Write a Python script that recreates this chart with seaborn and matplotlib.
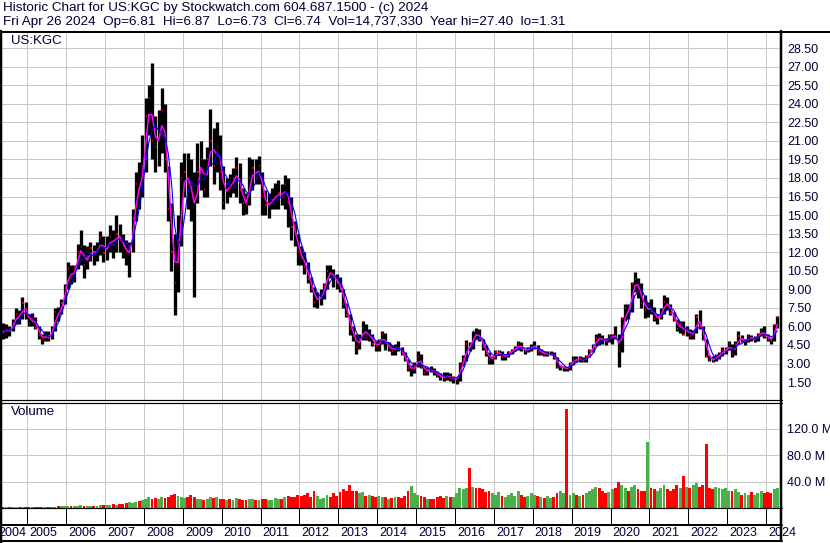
import numpy as np
import pandas as pd
import matplotlib
matplotlib.use("Agg")
import matplotlib.pyplot as plt
import seaborn as sns
from matplotlib.lines import Line2D

# ---------------- data (monthly, May 2004 .. Apr 2024) ----------------
MONTHS = pd.period_range("2004-05", "2024-04", freq="M")

CLOSE = [
    5.5, 5.7, 5.6, 6.3, 7.0, 6.6, 7.9, 7.0,                                   # 2004
    6.2, 6.6, 5.9, 5.3, 5.0, 5.2, 5.1, 5.7, 7.2, 7.0, 7.9, 9.2,               # 2005
    10.6, 9.9, 10.8, 12.0, 12.4, 11.0, 11.6, 12.3, 12.0, 12.2, 13.2, 11.9,    # 2006
    12.3, 13.2, 12.6, 13.5, 13.0, 12.5, 12.0, 12.4, 14.8, 17.5, 17.0, 19.0,   # 2007
    23.0, 24.5, 21.0, 20.5, 21.5, 23.5, 19.5, 15.5, 12.0, 9.5, 13.0, 18.0,    # 2008
    18.5, 17.5, 17.0, 16.5, 18.5, 19.5, 17.0, 19.5, 21.0, 19.0, 20.5, 18.5,   # 2009
    16.0, 17.5, 17.2, 18.0, 18.8, 17.0, 16.0, 15.8, 18.0, 18.8, 18.0, 19.0,   # 2010
    16.5, 15.8, 15.8, 16.2, 16.5, 16.8, 16.5, 17.5, 16.0, 14.0, 13.5, 12.0,   # 2011
    11.5, 10.8, 9.8, 9.0, 8.0, 8.2, 8.4, 9.3, 10.5, 10.3, 10.0, 9.5,          # 2012
    9.0, 7.8, 6.9, 5.8, 5.2, 4.3, 5.0, 5.9, 5.1, 5.3, 4.6, 4.4,               # 2013
    4.8, 5.4, 4.2, 4.4, 4.0, 4.3, 4.2, 3.8, 3.3, 2.6, 2.6, 2.8,               # 2014
    3.5, 2.7, 2.2, 2.5, 2.4, 2.3, 2.0, 1.9, 1.8, 2.0, 1.8, 1.8,               # 2015
    1.8, 2.9, 3.4, 4.6, 4.3, 5.6, 5.3, 5.0, 4.3, 3.8, 3.3, 3.5,               # 2016
    3.9, 3.9, 3.5, 3.6, 3.9, 4.1, 4.2, 4.6, 4.2, 4.0, 4.2, 4.3,               # 2017
    4.4, 3.9, 3.9, 3.7, 3.8, 3.8, 3.5, 2.7, 2.7, 2.7, 2.6, 3.0,               # 2018
    3.4, 3.3, 3.4, 3.2, 3.5, 4.0, 4.4, 5.1, 5.0, 4.9, 4.8, 5.2,               # 2019
    5.3, 5.1, 4.0, 6.6, 7.5, 7.2, 9.4, 9.8, 8.9, 7.9, 7.3, 7.4,               # 2020
    7.2, 6.6, 6.7, 7.0, 8.0, 7.7, 7.1, 6.5, 5.8, 6.1, 5.4, 5.8,               # 2021
    5.2, 5.6, 6.8, 6.0, 5.0, 3.6, 3.3, 3.2, 3.6, 3.7, 4.1, 4.1,               # 2022
    4.6, 3.8, 4.6, 5.2, 4.8, 4.8, 5.2, 5.0, 5.0, 5.4, 5.6, 5.2,               # 2023
    5.0, 4.8, 6.1, 6.74,                                                      # 2024
]

HIGH = [
    6.3, 6.2, 6.0, 6.6, 7.5, 7.3, 8.4, 8.0,
    7.0, 7.1, 6.8, 6.0, 5.4, 5.6, 5.6, 6.0, 7.5, 7.6, 8.2, 9.4,
    11.2, 11.0, 11.0, 12.7, 13.8, 12.6, 12.5, 12.8, 12.6, 12.8, 13.7, 13.3,
    13.3, 14.2, 13.8, 15.0, 14.3, 13.5, 13.0, 12.8, 15.5, 18.5, 19.3, 21.5,
    24.5, 25.5, 27.3, 23.0, 23.5, 25.3, 24.0, 19.0, 16.0, 13.5, 15.0, 19.3,
    20.0, 20.0, 19.5, 18.5, 20.8, 21.0, 19.5, 20.5, 23.6, 22.0, 22.5, 21.5,
    19.0, 18.0, 18.3, 18.8, 19.7, 19.2, 17.2, 16.8, 19.7, 19.5, 19.5, 19.8,
    18.5, 17.0, 16.8, 17.2, 17.6, 17.8, 17.5, 18.2, 18.0, 16.5, 14.5, 13.5,
    12.5, 12.0, 11.2, 10.0, 9.2, 8.8, 9.0, 9.5, 11.0, 11.0, 10.6, 10.2,
    10.0, 9.0, 7.9, 7.0, 6.0, 5.4, 5.4, 6.4, 6.2, 5.8, 5.4, 4.8,
    5.0, 5.6, 5.5, 4.7, 4.5, 4.6, 4.8, 4.3, 3.9, 3.4, 2.9, 3.1,
    4.0, 3.8, 2.8, 2.7, 2.8, 2.6, 2.4, 2.2, 2.3, 2.3, 2.2, 2.0,
    1.9, 3.1, 3.7, 4.9, 4.7, 5.6, 5.9, 5.8, 5.0, 4.5, 3.9, 3.6,
    4.1, 4.1, 4.0, 3.8, 4.0, 4.2, 4.4, 4.8, 4.7, 4.2, 4.3, 4.6,
    4.8, 4.5, 4.2, 4.0, 4.0, 4.0, 3.9, 3.5, 2.9, 2.8, 2.7, 3.1,
    3.6, 3.6, 3.6, 3.5, 3.7, 4.2, 4.6, 5.4, 5.5, 5.3, 5.1, 5.4,
    5.4, 6.0, 5.4, 6.8, 7.8, 7.8, 9.6, 10.4, 9.9, 9.5, 8.5, 8.0,
    8.2, 7.6, 7.0, 7.5, 8.5, 8.4, 7.8, 7.2, 6.6, 6.4, 6.4, 6.0,
    5.8, 5.7, 7.0, 7.3, 6.0, 5.0, 3.7, 3.6, 3.8, 3.9, 4.3, 4.3,
    4.8, 4.6, 4.8, 5.6, 5.3, 5.0, 5.4, 5.3, 5.2, 5.5, 5.9, 6.0,
    5.4, 5.1, 6.2, 6.87,
]

LOW = [
    5.0, 5.1, 5.2, 5.6, 6.2, 6.2, 6.6, 6.6,
    6.0, 6.0, 5.8, 5.0, 4.6, 4.8, 4.8, 5.0, 5.6, 6.4, 7.0, 7.8,
    9.0, 9.4, 9.6, 10.6, 11.0, 9.9, 10.6, 11.3, 11.0, 11.3, 11.8, 11.2,
    11.4, 12.0, 11.5, 12.0, 12.0, 11.5, 11.0, 10.0, 12.0, 14.5, 15.5, 16.5,
    18.5, 21.5, 19.5, 18.5, 19.0, 20.0, 18.5, 14.5, 10.5, 6.9, 8.8, 12.5,
    16.5, 15.5, 14.5, 8.4, 16.0, 17.0, 16.5, 16.5, 19.0, 17.5, 18.5, 17.0,
    15.5, 16.0, 16.5, 16.8, 16.5, 16.0, 15.0, 15.1, 15.8, 17.0, 17.5, 17.5,
    15.0, 15.0, 14.8, 15.5, 15.5, 15.5, 15.8, 15.5, 14.0, 13.0, 12.5, 11.0,
    11.0, 10.2, 9.5, 8.8, 7.6, 7.5, 7.7, 8.2, 9.0, 9.9, 9.2, 9.0,
    8.8, 7.5, 6.8, 5.3, 4.8, 3.8, 4.2, 4.9, 4.9, 4.8, 4.4, 4.0,
    4.0, 4.6, 4.1, 4.0, 3.7, 3.7, 4.0, 3.7, 3.2, 2.4, 2.0, 2.2,
    2.7, 2.6, 2.1, 2.1, 2.3, 2.1, 1.9, 1.7, 1.6, 1.7, 1.6, 1.4,
    1.31, 1.6, 2.8, 3.2, 4.0, 4.2, 5.0, 4.8, 4.1, 3.6, 3.0, 3.0,
    3.4, 3.7, 3.3, 3.3, 3.5, 3.8, 4.0, 4.1, 4.0, 3.8, 3.9, 4.0,
    4.2, 3.7, 3.7, 3.6, 3.6, 3.7, 3.4, 2.6, 2.5, 2.4, 2.4, 2.5,
    2.9, 3.1, 3.1, 3.1, 3.1, 3.5, 3.9, 4.4, 4.5, 4.6, 4.5, 4.7,
    4.6, 5.0, 2.7, 3.9, 6.4, 6.6, 7.2, 8.8, 8.3, 7.5, 6.7, 6.8,
    7.0, 6.4, 6.2, 6.6, 7.0, 7.3, 6.9, 6.4, 5.6, 5.5, 5.3, 5.2,
    5.0, 5.0, 5.5, 5.8, 4.9, 3.5, 3.2, 3.1, 3.2, 3.4, 3.6, 3.8,
    4.1, 3.5, 3.7, 4.6, 4.7, 4.5, 4.7, 4.8, 4.7, 4.8, 5.2, 5.1,
    4.8, 4.6, 4.8, 5.9,
]

VOLUME_M = [
    1.5, 1.5, 1.0, 1.5, 2.0, 1.5, 2.0, 1.5,
    1.5, 2.0, 1.5, 1.5, 2.0, 1.5, 1.5, 2.0, 2.0, 2.5, 2.5, 3.0,
    3.0, 3.0, 2.5, 3.5, 4.0, 3.0, 3.0, 2.5, 3.0, 3.5, 4.0, 4.5,
    4.5, 5.0, 5.5, 5.0, 6.0, 6.5, 7.0, 9.0, 8.0, 9.0, 10.0, 12.0,
    14, 16, 14, 15, 13, 16, 15, 17, 20, 21, 18, 16,
    15, 17, 19, 16, 14, 13, 12, 13, 17, 15, 16, 14,
    14, 12, 13, 12, 15, 13, 12, 12, 14, 13, 12, 12,
    14, 13, 12, 12, 15, 13, 13, 16, 18, 17, 16, 20,
    18, 20, 22, 16, 26, 18, 14, 15, 20, 17, 22, 18,
    24, 28, 26, 34, 25, 26, 22, 24, 18, 20, 18, 16,
    18, 17, 16, 14, 15, 16, 17, 15, 18, 26, 33, 22,
    20, 18, 16, 14, 13, 14, 16, 18, 15, 18, 16, 17,
    22, 30, 28, 30, 60, 32, 30, 30, 28, 24, 26, 22,
    20, 24, 18, 16, 20, 22, 18, 26, 20, 16, 18, 22,
    20, 18, 16, 15, 18, 15, 16, 22, 25, 22, 150, 20,
    22, 20, 18, 20, 22, 26, 28, 32, 30, 26, 22, 24,
    28, 30, 40, 35, 30, 25, 32, 35, 28, 26, 25, 99,
    30, 28, 26, 30, 34, 28, 26, 28, 35, 30, 49, 32,
    30, 35, 38, 32, 35, 96, 30, 28, 32, 30, 28, 30,
    25, 26, 28, 24, 20, 22, 20, 24, 20, 22, 26, 22,
    24, 22, 28, 30,
]

PRICE_TICKS = [1.5, 3.0, 4.5, 6.0, 7.5, 9.0, 10.5, 12.0, 13.5, 15.0, 16.5, 18.0,
               19.5, 21.0, 22.5, 24.0, 25.5, 27.0, 28.5]
VOLUME_TICKS = [40, 80, 120]
YEARS = list(range(2004, 2025))

TITLE_1 = "Historic Chart for US:KGC by Stockwatch.com 604.687.1500 - (c) 2024"
TITLE_2 = ("Fri Apr 26 2024  Op=6.81  Hi=6.87  Lo=6.73  Cl=6.74  "
           "Vol=14,737,330  Year hi=27.40  lo=1.31")

# ---------------- frame ----------------
df = pd.DataFrame({
    "x": MONTHS.year + (MONTHS.month - 0.5) / 12.0,
    "high": HIGH, "low": LOW, "close": CLOSE, "vol": VOLUME_M,
})
df["dir"] = np.where(df["close"].diff().fillna(-1) >= 0, "up", "down")
df["ma_fast"] = ((df["high"] + df["low"] + 2 * df["close"]) / 4).rolling(2, min_periods=1).mean()
df["ma_slow"] = df["close"].rolling(4, min_periods=1).mean()

sns.set_theme(style="white")
plt.rcParams["font.family"] = ["Liberation Sans", "DejaVu Sans"]

W, H = 830, 543
fig = plt.figure(figsize=(W / 100, H / 100), dpi=100)
fig.patch.set_facecolor("white")


def rect(x0, y0, x1, y1):
    return [x0 / W, 1 - y1 / H, (x1 - x0) / W, (y1 - y0) / H]


TXT = "#000033"
GRID = "#c8c8c8"
PX = 0.72  # points per pixel

XL = (2005 - 25.3 / 38.88, 2005 + 753.7 / 38.88)
year_lines = YEARS[1:]

ax_p = fig.add_axes(rect(2, 32, 781, 400))
ax_v = fig.add_axes(rect(2, 403, 781, 508))
ax_s = fig.add_axes(rect(2, 508, 781, 541))

for ax in (ax_p, ax_v):
    for s in ax.spines.values():
        s.set_visible(False)
    ax.set_xlim(*XL)
    ax.set_xticks(year_lines)
    ax.set_xticklabels([])
    ax.tick_params(axis="x", length=0)
    ax.grid(True, color=GRID, lw=1.0 * PX)
    ax.set_axisbelow(True)
    ax.yaxis.tick_right()
    ax.tick_params(axis="y", length=0, pad=6 * PX, labelsize=9, labelcolor=TXT)

# price panel
ax_p.set_ylim(0.05, 29.8)
ax_p.vlines(df["x"], df["low"], df["high"], colors="black", lw=3.3 * PX, zorder=2)
ax_p.hlines(df["close"], df["x"], df["x"] + 0.03, colors="red", lw=1.6 * PX, zorder=3)
sns.lineplot(data=df, x="x", y="ma_fast", ax=ax_p, color="#ff00ff", lw=1.5 * PX, zorder=4)
sns.lineplot(data=df, x="x", y="ma_slow", ax=ax_p, color="#0000ff", lw=1.1 * PX, zorder=5)
ax_p.set_xlabel("")
ax_p.set_ylabel("")
ax_p.set_xticks(year_lines)
ax_p.set_xticklabels([])
ax_p.set_yticks(PRICE_TICKS)
ax_p.set_yticklabels([f"{t:.2f}" for t in PRICE_TICKS])
ax_p.text(9 / 779, 1 - 3 / 368, "US:KGC", transform=ax_p.transAxes, ha="left", va="top",
          fontsize=9.5, color=TXT)

# volume panel
ax_v.set_ylim(0, 158.5)
ax_v.set_yticks(VOLUME_TICKS)
ax_v.set_yticklabels([f"{t:.1f} M" for t in VOLUME_TICKS])
ax_v.bar(df["x"], df["vol"], width=1 / 12 * 0.9,
         color=np.where(df["dir"] == "up", "#4cb04a", "#ff0000"), lw=0, zorder=2)
ax_v.text(9 / 779, 1 - 3 / 105, "Volume", transform=ax_v.transAxes, ha="left", va="top",
          fontsize=9.5, color=TXT)

# year strip
ax_s.set_xlim(*XL)
ax_s.set_ylim(0, 1)
ax_s.axis("off")
ax_s.vlines(year_lines, (541 - 525) / 33, 1, colors="black", lw=1.0 * PX)
yl = (541 - 533) / 33
for yr in YEARS:
    if yr == YEARS[0]:
        ax_s.text(yr + 1 - 0.5 / 38.88, yl, str(yr), ha="right", va="center", fontsize=9,
                  color=TXT, clip_on=False)
    else:
        ax_s.text(yr + 2 / 38.88, yl, str(yr), ha="left", va="center", fontsize=9, color=TXT,
                  clip_on=False)


# frame lines (pixel coordinates)
def hline(y, x0, x1, lw):
    fig.add_artist(Line2D([x0 / W, x1 / W], [1 - y / H, 1 - y / H], color="black",
                          lw=lw * PX, transform=fig.transFigure))


def vline(x, y0, y1, lw):
    fig.add_artist(Line2D([x / W, x / W], [1 - y0 / H, 1 - y1 / H], color="black",
                          lw=lw * PX, transform=fig.transFigure))


hline(31.5, 0, W, 2)
hline(400, 0, 782, 1.2)
hline(403, 0, 782, 1.2)
hline(508, 0, 782, 1.2)
hline(525, 0, 782, 2)
hline(541, 0, 782, 2)
vline(1, 31, H, 2.5)
vline(781, 31, 541, 2.5)

fig.text(3 / W, 1 - 2 / H, TITLE_1, ha="left", va="top", fontsize=9.7, color=TXT)
fig.text(3 / W, 1 - 16 / H, TITLE_2, ha="left", va="top", fontsize=9.7, color=TXT)

fig.savefig("out.png", dpi=100, facecolor="white")
